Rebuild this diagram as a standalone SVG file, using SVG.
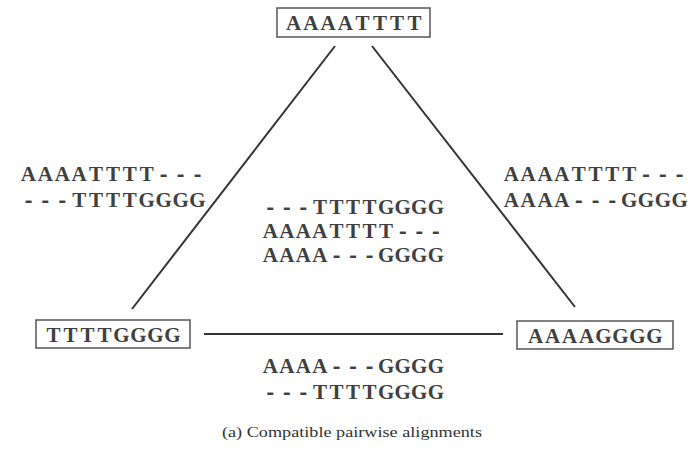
<svg xmlns="http://www.w3.org/2000/svg" width="694" height="453" viewBox="0 0 694 453">
<style>
.seq{font-family:"Liberation Serif","Times New Roman",serif;font-size:21px;font-weight:bold;fill:#404040;text-anchor:middle}
.d{font-family:"Liberation Mono","Courier New",monospace;font-size:21px}
.box{fill:#fff;stroke:#555;stroke-width:1.5}
.edge{stroke:#333;stroke-width:2;fill:none}
.cap{font-family:"Liberation Serif","Times New Roman",serif;font-size:15px;fill:#333}
</style>
<rect width="694" height="453" fill="#fff"/>
<g id="connectors">
<line class="edge" x1="335" y1="46" x2="132" y2="309"/>
<line class="edge" x1="372" y1="46" x2="575" y2="307"/>
<line class="edge" x1="204" y1="334" x2="503" y2="334"/>
</g>
<g id="node-top">
<rect class="box" x="277" y="8" width="153" height="29"/>
<text class="seq" y="30"><tspan x="293.6 310.9 328.1 345.4 362.6 379.9 397.1 414.4">AAAATTTT</tspan></text>
</g>
<g id="node-left">
<rect class="box" x="36" y="320" width="154" height="28"/>
<text class="seq" y="342"><tspan x="53.5 70.5 87.5 104.5 121.5 138.5 155.5 172.5">TTTTGGGG</tspan></text>
</g>
<g id="node-right">
<rect class="box" x="517" y="321" width="156" height="28"/>
<text class="seq" y="343"><tspan x="535.5 552.5 569.5 586.5 603.5 620.5 637.5 654.5">AAAAGGGG</tspan></text>
</g>
<g id="label-left">
<text class="seq" y="181"><tspan x="28.45 45.35 62.25 79.15 96.05 112.95 129.85 146.75">AAAATTTT</tspan><tspan class="d" x="163.65 180.55 197.45">---</tspan></text>
<text class="seq" y="207"><tspan class="d" x="28.45 45.35 62.25">---</tspan><tspan x="79.15 96.05 112.95 129.85 146.75 163.65 180.55 197.45">TTTTGGGG</tspan></text>
</g>
<g id="label-right">
<text class="seq" y="181"><tspan x="511.4 528.2 545.1 561.9 578.7 595.5 612.3 629.2">AAAATTTT</tspan><tspan class="d" x="646.0 662.8 679.6">---</tspan></text>
<text class="seq" y="207"><tspan x="511.4 528.2 545.1 561.9">AAAA</tspan><tspan class="d" x="578.7 595.5 612.3">---</tspan><tspan x="629.2 646.0 662.8 679.6">GGGG</tspan></text>
</g>
<g id="label-center">
<text class="seq" y="214"><tspan class="d" x="270.3 286.8 303.4">---</tspan><tspan x="319.9 336.5 353.0 369.6 386.1 402.7 419.2 435.8">TTTTGGGG</tspan></text>
<text class="seq" y="238"><tspan x="270.3 286.8 303.4 319.9 336.5 353.0 369.6 386.1">AAAATTTT</tspan><tspan class="d" x="402.7 419.2 435.8">---</tspan></text>
<text class="seq" y="262"><tspan x="270.3 286.8 303.4 319.9">AAAA</tspan><tspan class="d" x="336.5 353.0 369.6">---</tspan><tspan x="386.1 402.7 419.2 435.8">GGGG</tspan></text>
</g>
<g id="label-bottom">
<text class="seq" y="373"><tspan x="270.3 286.8 303.4 319.9">AAAA</tspan><tspan class="d" x="336.5 353.0 369.6">---</tspan><tspan x="386.1 402.7 419.2 435.8">GGGG</tspan></text>
<text class="seq" y="399"><tspan class="d" x="270.3 286.8 303.4">---</tspan><tspan x="319.9 336.5 353.0 369.6 386.1 402.7 419.2 435.8">TTTTGGGG</tspan></text>
</g>
<text class="cap" x="352" y="437" text-anchor="middle" textLength="260" lengthAdjust="spacingAndGlyphs">(a) Compatible pairwise alignments</text>
</svg>
